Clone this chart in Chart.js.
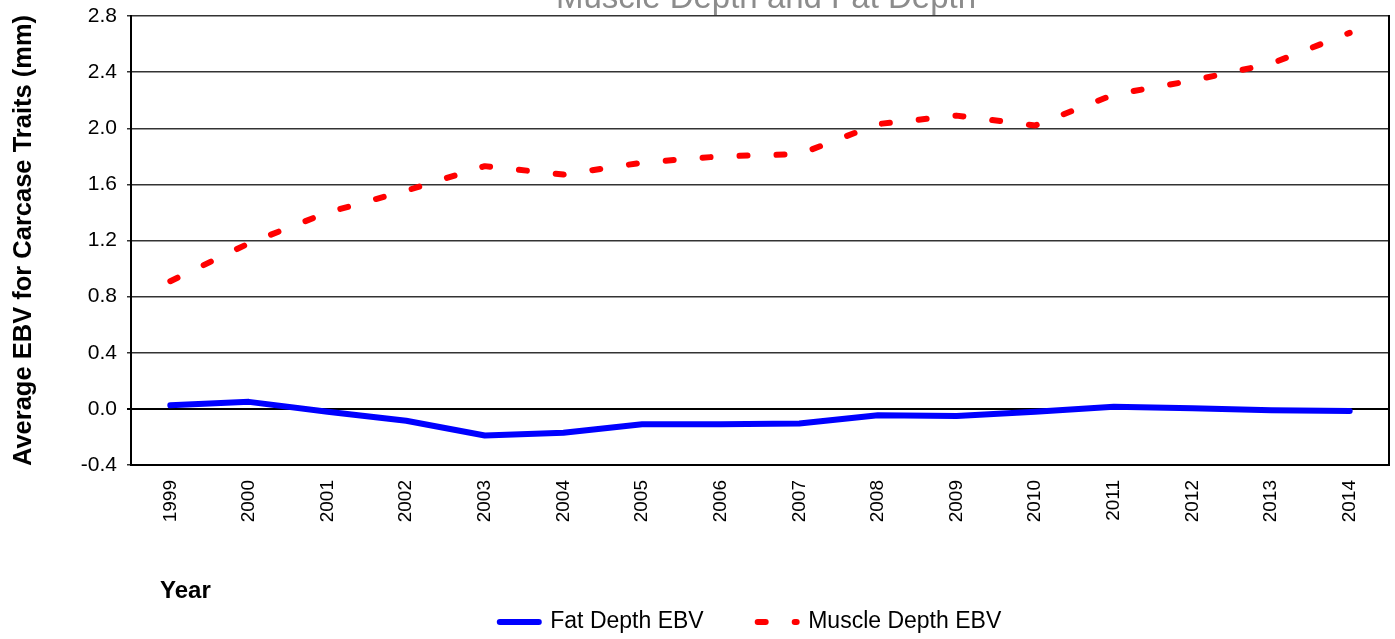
<!DOCTYPE html>
<html>
<head>
<meta charset="utf-8">
<script src="https://cdn.jsdelivr.net/npm/chart.js@4.4.1/dist/chart.umd.min.js"></script>
<style>
html,body{margin:0;padding:0;background:#fff;overflow:hidden;}
#c{display:block;}
</style>
</head>
<body>
<canvas id="c" width="1395" height="639"></canvas>
<script>
const years = ['1999','2000','2001','2002','2003','2004','2005','2006','2007','2008','2009','2010','2011','2012','2013','2014'];
const fatDepth = [0.025, 0.05, -0.02, -0.085, -0.19, -0.17, -0.11, -0.11, -0.105, -0.045, -0.05, -0.02, 0.015, 0.005, -0.01, -0.015];
const muscleDepth = [0.91, 1.18, 1.40, 1.555, 1.73, 1.67, 1.755, 1.80, 1.815, 2.03, 2.09, 2.02, 2.24, 2.34, 2.46, 2.68];
const seriesNames = ['Fat Depth EBV', 'Muscle Depth EBV'];
const yMin = -0.4, yMax = 2.8, yStep = 0.4;
const chartTitle = 'Muscle Depth and Fat Depth';
const yTitle = 'Average EBV for Carcase Traits (mm)';
const xTitle = 'Year';

const extraText = {
  id: 'extraText',
  afterLayout(chart) {
    // shift the legend band so the legend is centred like the original
    if (chart.legend) { chart.legend.left = 112; }
  },
  afterDraw(chart) {
    const ctx = chart.ctx;
    const a = chart.chartArea;
    ctx.save();
    ctx.fillStyle = '#8c8c8c';
    ctx.font = "33px 'Liberation Sans'";
    ctx.textAlign = 'center';
    ctx.textBaseline = 'alphabetic';
    ctx.fillText(chartTitle, (a.left + a.right) / 2 + 6, 8);
    ctx.fillStyle = '#000';
    ctx.font = "bold 24px 'Liberation Sans'";
    ctx.textAlign = 'left';
    ctx.fillText(xTitle, a.left + 29, 598);
    ctx.restore();
  }
};

const isZero = v => Math.abs(v) < 1e-9;

new Chart(document.getElementById('c'), {
  type: 'line',
  data: {
    labels: years,
    datasets: [
      {
        label: seriesNames[0],
        data: fatDepth,
        borderColor: '#0000ff',
        backgroundColor: '#0000ff',
        borderWidth: 6,
        borderCapStyle: 'round',
        borderJoinStyle: 'round',
        pointRadius: 0,
        tension: 0,
        fill: false
      },
      {
        label: seriesNames[1],
        data: muscleDepth,
        borderColor: '#ff0000',
        backgroundColor: '#ff0000',
        borderWidth: 6,
        borderDash: [8, 29],
        borderCapStyle: 'round',
        borderJoinStyle: 'round',
        pointRadius: 0,
        tension: 0,
        fill: false
      }
    ]
  },
  options: {
    responsive: false,
    animation: false,
    devicePixelRatio: 1,
    layout: { padding: { left: 0, right: 6, top: 16, bottom: -4.5 } },
    plugins: {
      tooltip: { enabled: false },
      title: { display: false },
      legend: {
        position: 'bottom',
        labels: {
          usePointStyle: true,
          pointStyle: 'line',
          pointStyleWidth: 39,
          padding: 54,
          color: '#000',
          font: { family: "'Liberation Sans'", size: 23 },
          generateLabels(chart) {
            const items = Chart.defaults.plugins.legend.labels.generateLabels(chart);
            return items.map(it => {
              const ds = chart.data.datasets[it.datasetIndex];
              return Object.assign(it, {
                lineDash: ds.borderDash || [],
                lineCap: 'round',
                lineWidth: ds.borderWidth,
                strokeStyle: ds.borderColor,
                fillStyle: ds.borderColor
              });
            });
          }
        }
      }
    },
    scales: {
      x: {
        type: 'category',
        offset: true,
        grid: { display: false, drawTicks: false },
        border: { display: true, color: '#000', width: 2 },
        ticks: {
          autoSkip: false,
          minRotation: 90,
          maxRotation: 90,
          padding: 15,
          color: '#000',
          font: { family: "'Liberation Sans'", size: 19 }
        },
        afterFit(s) { s.height = 91.5; }
      },
      y: {
        min: yMin,
        max: yMax,
        ticks: {
          stepSize: yStep,
          padding: 10,
          color: '#000',
          font: { family: "'Liberation Sans'", size: 21 },
          callback: v => (isZero(v) ? 0 : v).toFixed(1)
        },
        grid: {
          color: c => isZero(c.tick.value) ? '#000' : '#333',
          lineWidth: c => isZero(c.tick.value) ? 2 : 1.5,
          tickLength: 4,
          drawTicks: true
        },
        border: { display: true, color: '#000', width: 2 },
        title: {
          display: true,
          text: yTitle,
          color: '#000',
          font: { family: "'Liberation Sans'", size: 25.5, weight: 'bold' },
          padding: { top: 9, bottom: 0 }
        },
        afterFit(s) { s.width = 131; s.paddingTop = 0; s.paddingBottom = 0; }
      },
      y2: {
        type: 'linear',
        position: 'right',
        min: yMin,
        max: yMax,
        grid: { display: false, drawTicks: false },
        ticks: { display: false },
        border: { display: true, color: '#000', width: 2 },
        afterFit(s) { s.width = 0; s.paddingTop = 0; s.paddingBottom = 0; }
      }
    }
  },
  plugins: [extraText]
});
</script>
</body>
</html>
